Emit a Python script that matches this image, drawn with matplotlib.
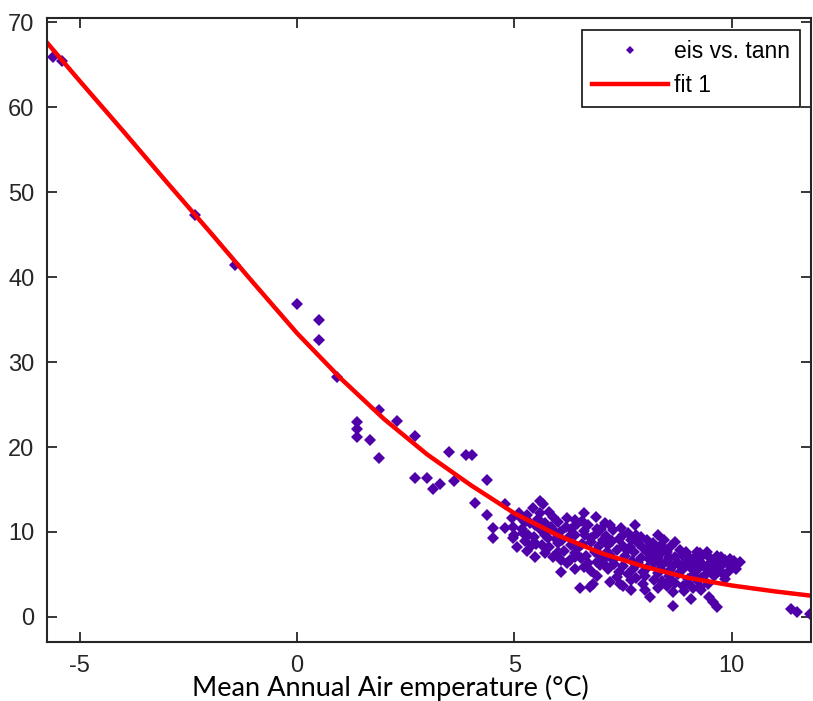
import numpy as np
import matplotlib.pyplot as plt

plt.rcParams['axes.unicode_minus'] = False

# eis vs. tann samples (tann in degC, eis)
cold_pts = [
    (-5.62, 65.9), (-5.41, 65.4), (-2.34, 47.3), (-1.43, 41.4), (0.00, 36.8),
    (0.50, 34.9), (0.50, 32.6), (0.93, 28.3), (1.89, 24.4), (2.29, 23.1),
    (1.39, 22.9), (1.39, 22.1), (1.39, 21.2), (1.67, 20.8), (1.88, 18.7),
    (2.71, 21.3), (3.49, 19.4), (3.89, 19.1), (4.02, 19.1), (2.71, 16.4),
    (2.98, 16.4), (3.12, 15.1), (3.29, 15.6), (3.61, 16.0), (4.38, 16.1),
    (4.09, 13.4), (4.38, 12.0),
]

cluster_edge_pts = [
    (4.50, 10.5), (4.50, 9.24), (4.78, 13.3), (4.78, 10.5), (4.95, 11.7),
    (4.97, 10.6), (5.00, 9.6), (5.06, 8.25), (5.11, 12.2), (5.43, 12.8),
    (5.59, 13.7), (5.66, 13.3), (5.59, 12.2), (5.47, 7.07), (5.63, 8.45),
    (5.89, 11.8), (5.89, 7.07), (6.08, 5.3), (6.18, 10.6), (6.39, 11.4),
    (6.39, 5.7), (6.51, 3.35), (6.60, 12.2), (6.74, 3.54), (6.81, 3.9),
    (6.87, 11.8), (6.89, 4.8), (7.08, 11.0), (7.27, 10.2), (7.35, 4.7),
    (7.43, 3.9), (7.49, 9.6), (7.69, 4.3), (7.69, 3.15), (7.77, 10.8),
    (7.96, 3.9), (8.11, 2.36), (8.31, 9.6), (8.38, 8.45), (8.50, 3.7),
    (8.65, 2.95), (8.65, 1.26), (8.80, 7.86), (9.03, 6.7), (9.07, 2.17),
    (9.19, 4.3), (9.42, 7.66), (9.48, 2.36), (9.57, 1.77), (9.66, 1.18),
    (9.84, 6.7), (10.03, 5.9), (10.18, 6.5),
    (6.89, 10.4), (5.40, 8.45), (5.78, 9.24), (6.01, 8.65), (6.31, 8.45),
    (6.47, 8.06), (6.62, 9.6), (5.17, 10.4), (5.32, 9.6), (5.47, 10.8),
    (4.97, 9.24), (5.24, 11.2), (5.93, 10.0), (6.39, 9.6), (6.77, 8.84),
    (6.85, 7.66), (6.08, 6.7), (6.28, 6.7), (6.54, 6.9), (6.70, 6.3),
    (6.89, 6.5), (6.97, 6.1), (7.08, 6.1), (8.88, 3.7), (9.26, 3.5),
    (9.11, 3.35), (7.73, 5.7), (7.96, 5.3), (8.34, 5.7), (8.57, 5.5),
    (8.88, 5.7), (9.11, 4.9), (7.27, 6.7), (6.97, 7.27), (7.92, 9.4),
    (7.69, 9.0), (8.19, 8.65), (7.04, 9.0), (8.50, 7.66), (9.26, 7.47),
    (7.12, 7.66), (7.58, 7.86), (8.04, 7.66), (10.10, 5.7), (9.91, 5.3),
    (9.68, 6.1), (9.53, 6.5), (9.45, 5.5), (9.45, 3.9),
]

cluster_core_pts = [
    (5.15, 11.6), (5.30, 12.0), (5.35, 11.0), (5.55, 11.5), (5.70, 11.0),
    (5.80, 12.4), (5.85, 10.6), (6.00, 11.2), (6.05, 10.0), (6.20, 11.7),
    (6.25, 9.4), (6.30, 10.3), (6.45, 10.9), (5.20, 9.9), (5.45, 9.4),
    (5.60, 10.2), (5.70, 9.7), (5.95, 9.2), (6.10, 9.0), (5.25, 8.9),
    (5.50, 8.6), (5.80, 8.2), (6.15, 7.8), (6.40, 7.5), (5.30, 7.8),
    (5.70, 7.5), (6.00, 7.6), (6.55, 11.3), (6.60, 10.1), (6.70, 10.8),
    (6.75, 9.3), (6.90, 9.9), (6.95, 8.4), (6.55, 8.6), (6.65, 7.2),
    (6.20, 6.3), (6.40, 7.0), (6.60, 5.9), (6.75, 5.4),
    (7.00, 10.4), (7.10, 9.5), (7.15, 8.5), (7.20, 10.8), (7.25, 8.9),
    (7.35, 7.9), (7.40, 9.2), (7.45, 10.5), (7.50, 8.4), (7.55, 7.2),
    (7.60, 9.9), (7.65, 8.2), (7.70, 6.6), (7.75, 7.6), (7.80, 9.6),
    (7.85, 8.7), (7.90, 6.9), (7.95, 8.1), (7.20, 7.3), (7.30, 6.2),
    (7.50, 6.0), (7.85, 6.3), (7.05, 6.8), (7.40, 5.3), (7.60, 5.0),
    (7.15, 5.6),
    (8.05, 9.0), (8.10, 6.8), (8.15, 7.2), (8.20, 6.3), (8.25, 7.9),
    (8.30, 6.9), (8.35, 7.4), (8.40, 6.1), (8.45, 8.0), (8.50, 6.6),
    (8.55, 7.1), (8.60, 8.3), (8.65, 6.0), (8.70, 7.0), (8.75, 6.4),
    (8.85, 7.3), (8.90, 6.2), (8.95, 7.6), (8.05, 5.8), (8.30, 5.2),
    (8.55, 4.8), (8.75, 5.1), (8.20, 4.4), (8.40, 4.2), (8.00, 4.8),
    (8.60, 4.3), (8.10, 8.2), (8.70, 8.8), (8.45, 9.1),
    (9.00, 7.2), (9.05, 5.8), (9.10, 6.3), (9.15, 7.0), (9.20, 5.5),
    (9.25, 6.6), (9.30, 7.0), (9.35, 6.0), (9.40, 5.1), (9.50, 6.9),
    (9.55, 5.8), (9.60, 6.4), (9.65, 7.2), (9.70, 5.5), (9.75, 6.0),
    (9.80, 5.0), (9.90, 6.2), (9.95, 6.8), (10.05, 6.6), (10.10, 6.2),
    (9.30, 4.6), (9.60, 4.8), (9.00, 4.5), (9.85, 4.5), (9.20, 7.7),
    (9.75, 7.0),
    (7.20, 4.1), (7.50, 3.7), (7.80, 4.6), (8.00, 3.2), (8.30, 3.4),
    (8.90, 3.0), (9.30, 3.2), (9.00, 4.0), (8.70, 4.0),
]

warm_pts = [(11.37, 0.99), (11.49, 0.59), (11.79, 0.40)]

# fitted curve ("fit 1")
fit_tann = [-5.75, -5, -4, -3, -2, -1, 0, 1, 2, 3, 4, 5, 6, 7, 8, 9, 10, 11, 11.82]
fit_eis = [67.6, 63.1, 57.2, 51.2, 45.3, 39.3, 33.4, 28.1, 23.3, 19.1, 15.5,
           12.2, 9.6, 7.5, 5.9, 4.6, 3.7, 3.0, 2.5]

FONT = ['Liberation Sans', 'DejaVu Sans']
PURPLE = '#5000a8'
INK = '#262626'


def plot_eis_vs_tann(pts):
    fig = plt.figure(figsize=(8.13, 7.01), dpi=100)
    ax = fig.add_axes([47/813, 1 - 642/701, (811 - 47)/813, (642 - 18)/701])

    ax.plot(pts[:, 0], pts[:, 1], linestyle='none', marker='D', markersize=6.4,
            color=PURPLE, markeredgewidth=0, label='eis vs. tann')
    ax.plot(fit_tann, fit_eis, color='#ff0000', linewidth=3.2, label='fit 1')

    ax.set_xlim(-5.75, 11.82)
    ax.set_ylim(-2.95, 70.5)
    ax.set_xticks([-5, 0, 5, 10])
    ax.set_yticks(np.arange(0, 71, 10))

    ax.tick_params(direction='in', length=7, width=1.3, top=True, right=True,
                   colors=INK, labelsize=17, pad=9)
    for lab in ax.get_xticklabels() + ax.get_yticklabels():
        lab.set_family(FONT)
    for sp in ax.spines.values():
        sp.set_color(INK)
        sp.set_linewidth(1.5)

    leg = ax.legend(loc='upper right', bbox_to_anchor=(800/813, 1 - 30/701),
                    bbox_transform=fig.transFigure, borderaxespad=0,
                    fancybox=False, framealpha=1, edgecolor='#111111',
                    prop={'family': FONT, 'size': 16.5}, handlelength=3.3,
                    handletextpad=0.25, borderpad=0.45, labelspacing=0.45,
                    markerscale=0.65)
    leg.get_frame().set_linewidth(1.2)

    fig.text(390/813, 1 - 688/701, 'Mean Annual Air emperature (°C)',
             ha='center', va='center', family=['Lato', 'DejaVu Sans'],
             fontsize=19.5, color='black')
    return fig


def run():
    pts = np.array(cold_pts + cluster_edge_pts + cluster_core_pts + warm_pts)
    fig = plot_eis_vs_tann(pts)
    fig.savefig('out.png', dpi=100)


if __name__ == "__main__":
    run()
